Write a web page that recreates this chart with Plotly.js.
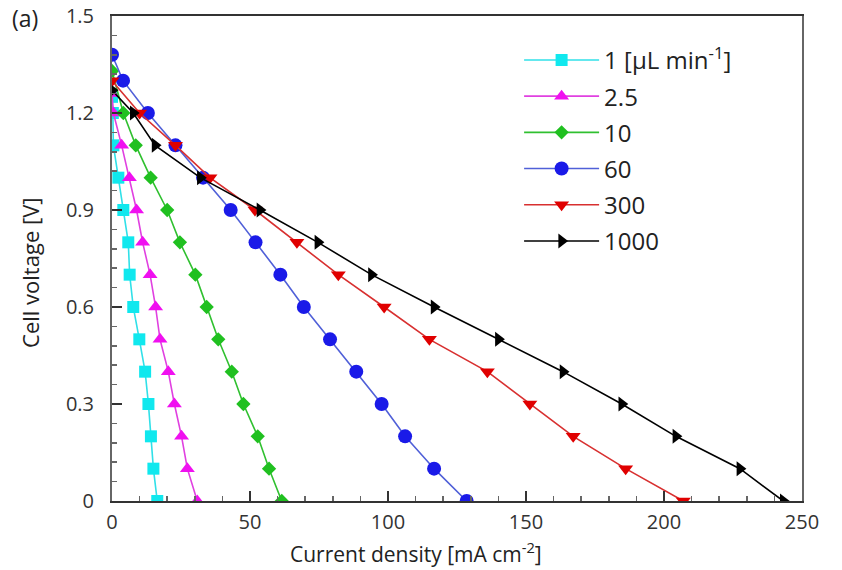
<!DOCTYPE html>
<html>
<head>
<meta charset="utf-8">
<script src="https://cdn.plot.ly/plotly-3.0.1.min.js"></script>
<style>html,body{margin:0;padding:0;background:#fff;}#chart{width:842px;height:570px;}</style>
</head>
<body>
<div id="chart"></div>
<script>
// Series names
const seriesNames = ["1 [μL min<sup>-1</sup>]", "2.5", "10", "60", "300", "1000"];

// Current density [mA cm^-2] and cell voltage [V] per flow rate
const current_1 = [0, 0.3, 0.5, 2.3, 4.1, 5.9, 6.4, 7.7, 9.9, 12, 13.2, 14.1, 15, 16.4];
const voltage_1 = [1.25, 1.2, 1.1, 1.0, 0.9, 0.8, 0.7, 0.6, 0.5, 0.4, 0.3, 0.2, 0.1, 0];

const current_2_5 = [0, 0.5, 3.5, 6.3, 8.9, 11.1, 13.8, 15.8, 17.4, 20.4, 22.6, 25.2, 27.3, 30.9];
const voltage_2_5 = [1.26, 1.2, 1.1, 1.0, 0.9, 0.8, 0.7, 0.6, 0.5, 0.4, 0.3, 0.2, 0.1, 0];

const current_10 = [0, 4.1, 8.6, 14, 20, 24.6, 30.2, 34.3, 38.5, 43.4, 47.6, 52.8, 56.9, 61.5];
const voltage_10 = [1.33, 1.2, 1.1, 1.0, 0.9, 0.8, 0.7, 0.6, 0.5, 0.4, 0.3, 0.2, 0.1, 0];

const current_60 = [0, 4, 13, 23, 33, 43, 52, 61, 69.5, 79, 88.5, 97.7, 106.2, 116.7, 128.5];
const voltage_60 = [1.38, 1.3, 1.2, 1.1, 1.0, 0.9, 0.8, 0.7, 0.6, 0.5, 0.4, 0.3, 0.2, 0.1, 0];

const current_300 = [0, 10, 23, 35.5, 51.8, 67, 82, 98.6, 115, 136, 151.4, 167.1, 186.1, 207];
const voltage_300 = [1.3, 1.2, 1.1, 1.0, 0.9, 0.8, 0.7, 0.6, 0.5, 0.4, 0.3, 0.2, 0.1, 0];

const current_1000 = [0, 7.7, 15.6, 32, 53.6, 74.6, 94, 116.7, 140, 163.4, 184.7, 204.3, 227.5, 243.2];
const voltage_1000 = [1.27, 1.2, 1.1, 1.0, 0.9, 0.8, 0.7, 0.6, 0.5, 0.4, 0.3, 0.2, 0.1, 0];

const xs = [current_1, current_2_5, current_10, current_60, current_300, current_1000];
const ys = [voltage_1, voltage_2_5, voltage_10, voltage_60, voltage_300, voltage_1000];

const lineColors = ["#30e0e8", "#e040e0", "#30c030", "#5060d8", "#d83030", "#000000"];
const markerColors = ["#10e8ee", "#f010f0", "#20c020", "#1a1ae8", "#e00000", "#000000"];
const symbols = ["square", "triangle-up", "diamond", "circle", "triangle-down", "triangle-right"];
const sizes = [12, 13, 11, 14, 13, 13];

const traces = xs.map((x, i) => ({
  x: x, y: ys[i], type: "scatter", mode: "lines+markers", name: seriesNames[i],
  legendgroup: "g" + i,
  line: {color: lineColors[i], width: 1.6},
  marker: {symbol: symbols[i], size: sizes[i], color: markerColors[i], line: {width: 0}}
}));

const font = "Open Sans, Noto Sans, sans-serif";
const layout = {
  width: 842, height: 570,
  margin: {l: 112, r: 40, t: 16, b: 69},
  paper_bgcolor: "#fff", plot_bgcolor: "#fff",
  font: {family: font, color: "#333"},
  showlegend: true,
  legend: {x: 0.59, y: 0.955, xanchor: "left", yanchor: "top", bgcolor: "rgba(0,0,0,0)",
           itemwidth: 75,
           font: {size: 24, color: "#222", family: font}, tracegroupgap: 2},
  xaxis: {range: [0, 250], dtick: 50, tick0: 0, ticks: "inside", ticklen: 10, tickwidth: 1.5, tickcolor: "#333",
          minor: {dtick: 10, ticks: "inside", ticklen: 5, tickcolor: "#666"},
          showgrid: false, zeroline: false, showline: true, linecolor: "#333", linewidth: 2, mirror: true,
          tickfont: {size: 20, color: "#333"}, ticklabelstandoff: 2},
  yaxis: {range: [0, 1.5], dtick: 0.3, tick0: 0, ticks: "inside", ticklen: 10, tickwidth: 1.5, tickcolor: "#333",
          minor: {dtick: 0.06, ticks: "inside", ticklen: 5, tickcolor: "#666"},
          showgrid: false, zeroline: false, showline: true, linecolor: "#666", linewidth: 2, mirror: true,
          tickfont: {size: 20, color: "#333"}, ticklabelstandoff: 12},
  annotations: [
    {text: "Current density [mA cm<sup>-2</sup>]", xref: "paper", yref: "paper", x: 0.44, y: -0.106,
     xanchor: "center", yanchor: "middle", showarrow: false, font: {size: 21, color: "#222", family: font}},
    {text: "Cell voltage [V]", xref: "paper", yref: "paper", x: -0.119, y: 0.47, textangle: -90,
     xanchor: "center", yanchor: "middle", showarrow: false, font: {size: 22, color: "#222", family: font}},
    {text: "(a)", xref: "paper", yref: "paper", x: -0.148, y: 0.995,
     xanchor: "left", yanchor: "middle", showarrow: false, font: {size: 23, color: "#222", family: font}}
  ]
};

Plotly.newPlot("chart", traces, layout, {displayModeBar: false, staticPlot: true});
</script>
</body>
</html>
